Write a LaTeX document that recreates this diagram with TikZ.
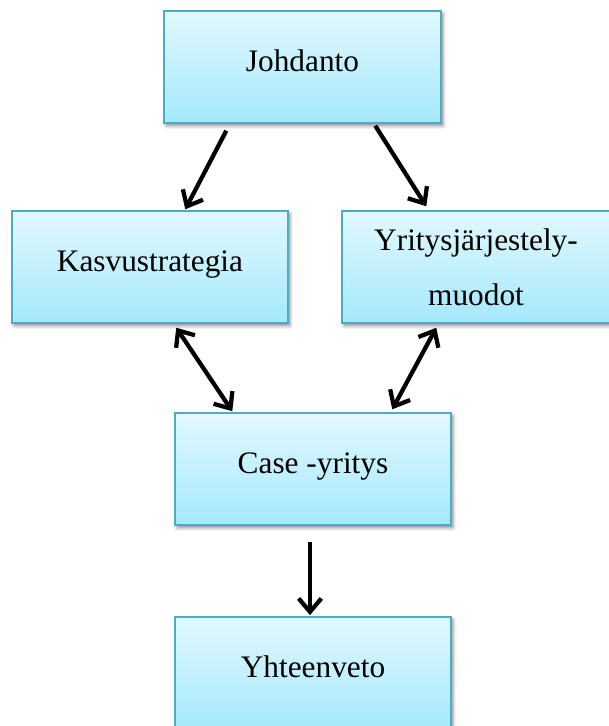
\documentclass[tikz,border=0pt]{standalone}
\usepackage{fontspec}
\setmainfont{Liberation Serif}
\usetikzlibrary{calc,arrows.meta,shadows.blur}
\definecolor{boxtop}{RGB}{226,248,254}
\definecolor{boxbot}{RGB}{164,233,252}
\definecolor{boxline}{RGB}{75,172,198}
% text placed with its baseline a little below the box centre
\newcommand{\boxtext}[1]{\raisebox{-3pt}[0pt][0pt]{#1}}
\newcommand{\boxline}[1]{\raisebox{-7.9pt}[0pt][0pt]{#1}}
\tikzset{
  topic/.style={draw=boxline, line width=1.1pt, rectangle,
    top color=boxtop, bottom color=boxbot,
    blur shadow={shadow xshift=1.5pt, shadow yshift=-2.2pt,
      shadow blur radius=2.5pt, shadow opacity=45},
    align=center, font=\fontsize{23.5}{41.25}\selectfont,
    minimum height=84pt},
  tip/.tip={Straight Barb[length=10pt,width=17pt]},
  link/.style={line width=3.2pt, -tip},
  twolink/.style={line width=3.2pt, tip-tip}
}
\begin{document}
\begin{tikzpicture}[x=0.75pt,y=-0.75pt]
\useasboundingbox (0,0) rectangle (608,726);
\node[topic, minimum width=207.75pt] (j) at (302.5,67) {\boxtext{Johdanto}};
\node[topic, minimum width=207pt] (k) at (150,267) {\boxtext{Kasvustrategia}};
\node[topic, minimum width=201pt] (y) at (476,267) {\boxline{Yritysjärjestely-}\\\boxline{muodot}};
\node[topic, minimum width=207pt] (c) at (313,469) {\boxtext{Case -yritys}};
\node[topic, minimum width=207pt, minimum height=85pt] (h) at (313,673.5) {\boxtext{Yhteenveto}};
\draw[link] ($(j.south west)+(63,7)$) -- ($(k.north west)+(174,-1)$);
\draw[link] ($(j.south west)+(212,2)$) -- ($(y.north west)+(85,-4)$);
\draw[twolink] ($(k.south west)+(165,4)$) -- ($(c.north west)+(58,-1)$);
\draw[twolink] ($(y.south west)+(95,4)$) -- ($(c.north west)+(218,-3)$);
\draw[link] ($(c.south)+(-3,16)$) -- ($(h.north)+(-3,-1)$);
\end{tikzpicture}
\end{document}
